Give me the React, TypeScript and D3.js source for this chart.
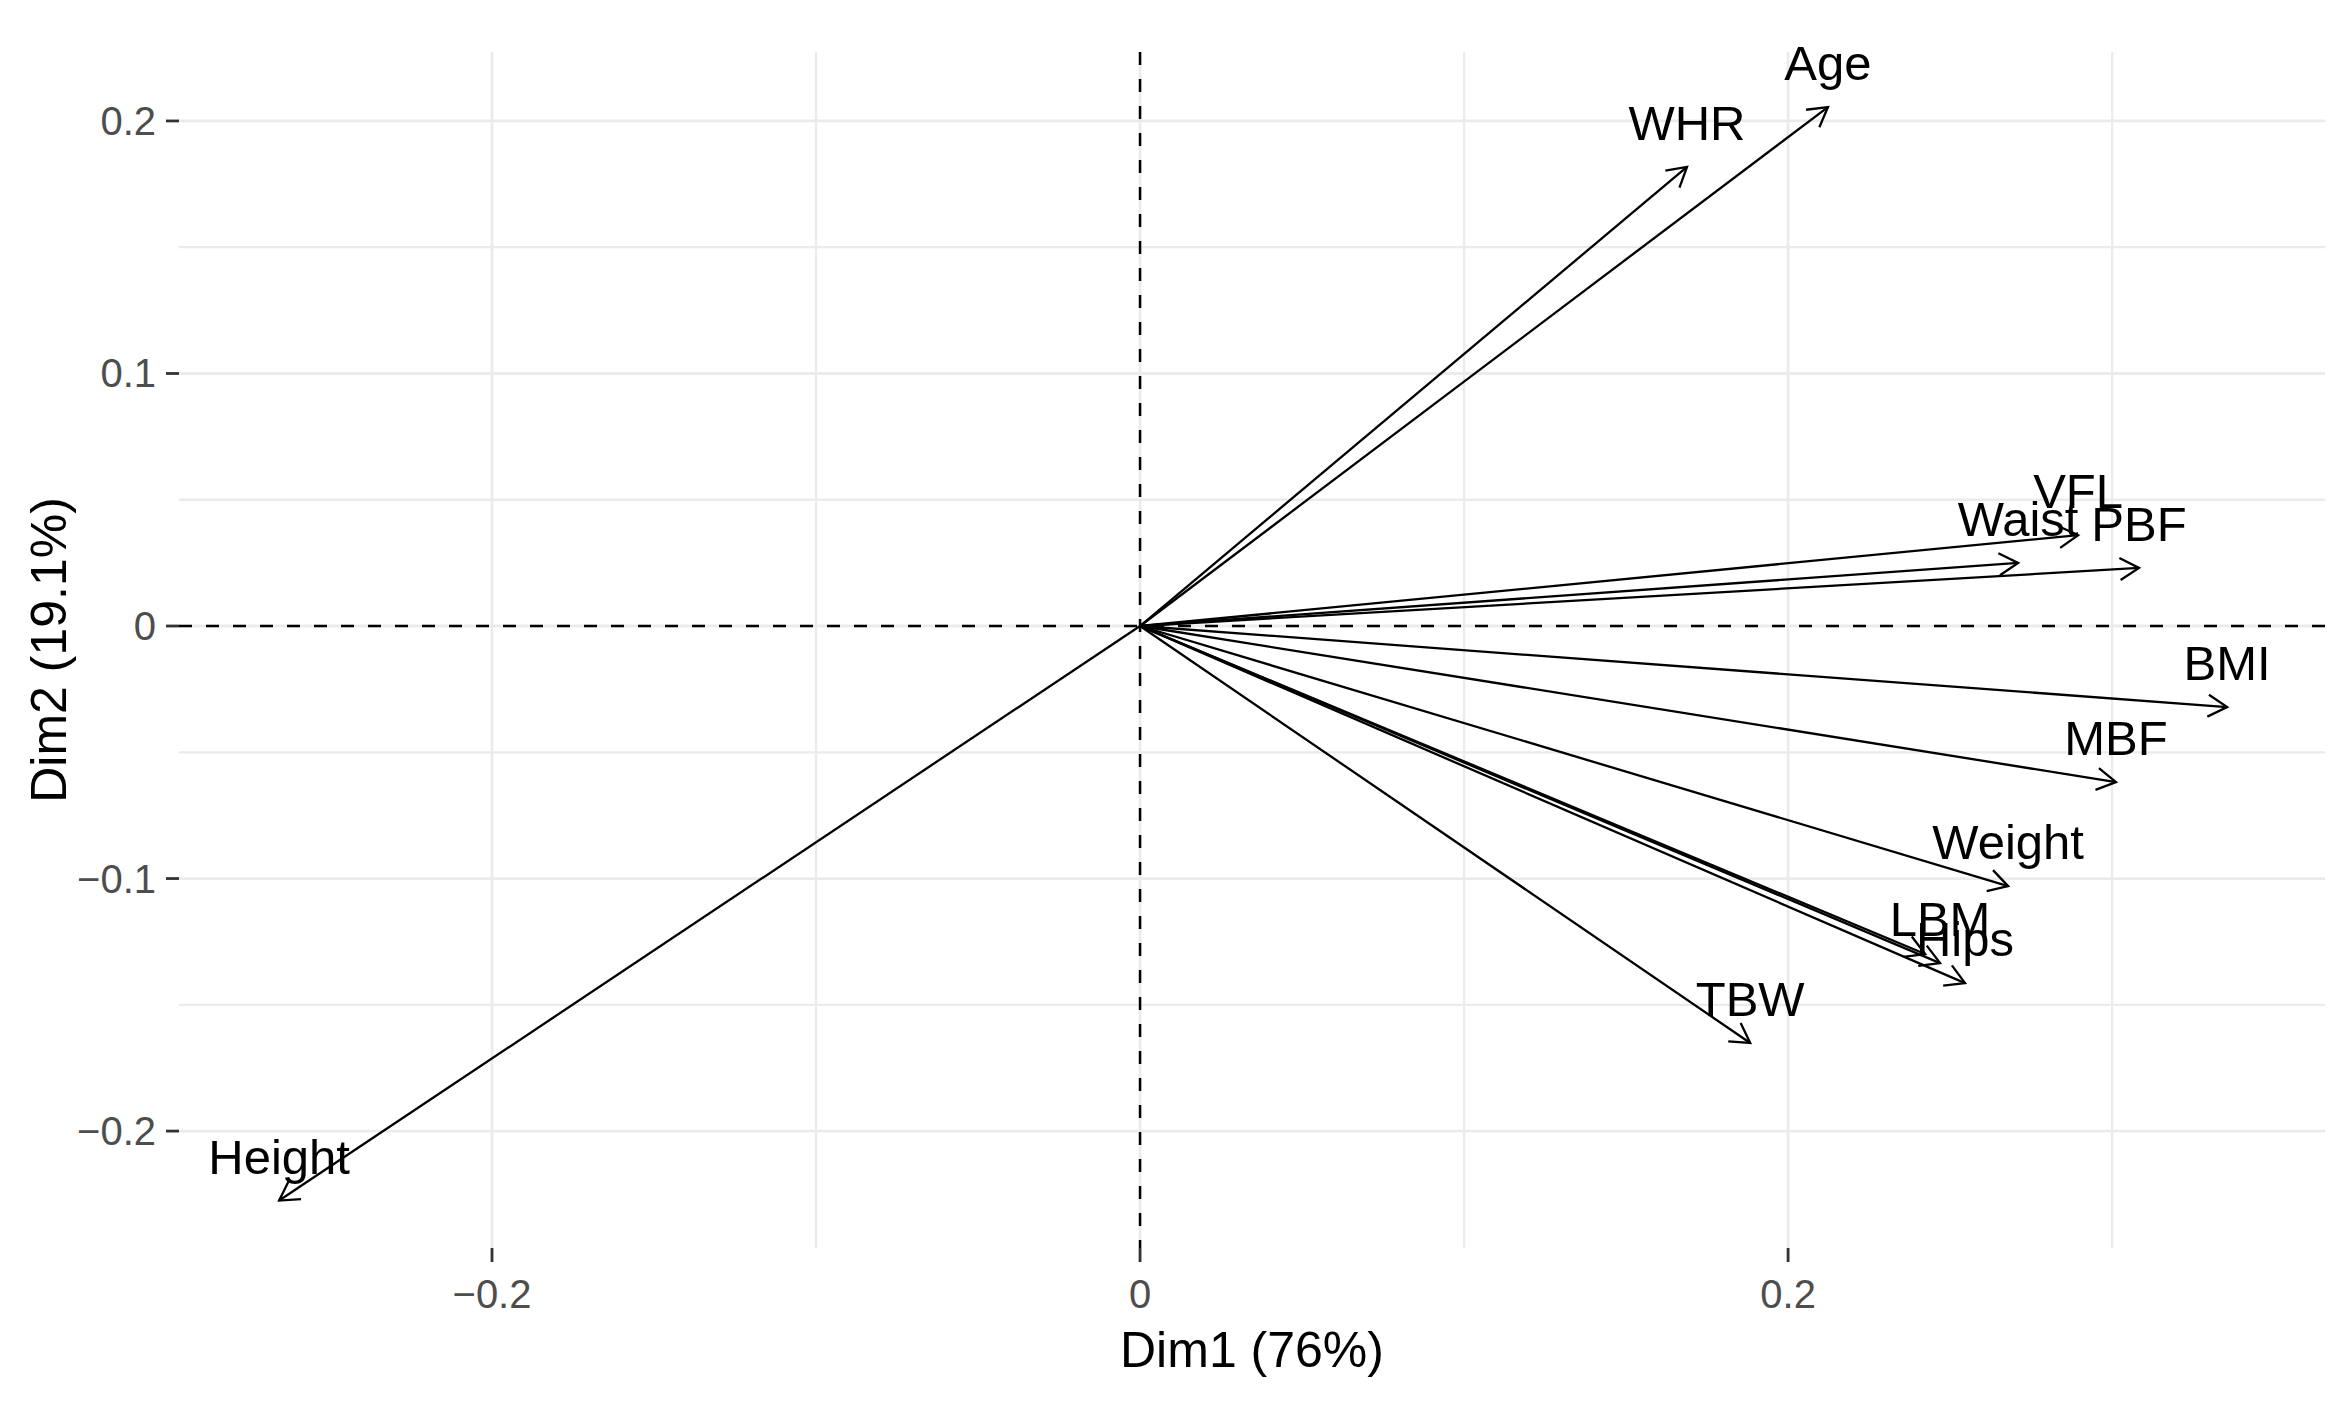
import React from "react";
import { scaleLinear } from "d3";

// PCA variable loadings
const variables = ["Age", "WHR", "VFL", "Waist", "PBF", "BMI", "MBF", "Weight", "LBM", "", "Hips", "TBW", "Height"];
const dim1 = [0.2123, 0.1688, 0.2895, 0.271, 0.3083, 0.3355, 0.3012, 0.2679, 0.2469, 0.2423, 0.2546, 0.1883, -0.2657];
const dim2 = [0.2055, 0.1818, 0.036, 0.025, 0.023, -0.0321, -0.0618, -0.103, -0.1335, -0.1299, -0.1414, -0.1651, -0.2275];

const xTicks = [-0.2, 0, 0.2];
const yTicks = [-0.2, -0.1, 0, 0.1, 0.2];
const xMinor = [-0.1, 0.1, 0.3];
const yMinor = [-0.15, -0.05, 0.05, 0.15];

const xTitle = "Dim1 (76%)";
const yTitle = "Dim2 (19.1%)";

const W = 2351;
const H = 1405;
const panel = { left: 179, right: 2325, top: 52, bottom: 1248 };

const FONT = "'Liberation Sans', Arial, sans-serif";

const fmt = (v: number) => (v === 0 ? "0" : (v < 0 ? "\u2212" : "") + Math.abs(v).toFixed(1));

const App: React.FC = () => {
    const x = scaleLinear().domain([-0.2966, 0.3657]).range([panel.left, panel.right]);
    const y = scaleLinear().domain([-0.2463, 0.2273]).range([panel.bottom, panel.top]);

    const arrowHead = (x1: number, y1: number, x2: number, y2: number) => {
        const a = Math.atan2(y2 - y1, x2 - x1);
        const len = 22;
        const spread = Math.PI / 6;
        const p1 = [x2 - len * Math.cos(a - spread), y2 - len * Math.sin(a - spread)];
        const p2 = [x2 - len * Math.cos(a + spread), y2 - len * Math.sin(a + spread)];
        return `M${p1[0]},${p1[1]}L${x2},${y2}L${p2[0]},${p2[1]}`;
    };

    return (
        <svg width={W} height={H} style={{ position: "absolute", left: 0, top: 0, background: "#fff" }}>
            {/* grid */}
            <g stroke="#EBEBEB" fill="none">
                {yMinor.map(v => (
                    <line key={"ym" + v} x1={panel.left} x2={panel.right} y1={y(v)} y2={y(v)} strokeWidth={2.3} />
                ))}
                {xMinor.map(v => (
                    <line key={"xm" + v} x1={x(v)} x2={x(v)} y1={panel.top} y2={panel.bottom} strokeWidth={2.3} />
                ))}
                {yTicks.map(v => (
                    <line key={"yg" + v} x1={panel.left} x2={panel.right} y1={y(v)} y2={y(v)} strokeWidth={2.8} />
                ))}
                {xTicks.map(v => (
                    <line key={"xg" + v} x1={x(v)} x2={x(v)} y1={panel.top} y2={panel.bottom} strokeWidth={2.8} />
                ))}
            </g>

            {/* reference lines */}
            <line x1={panel.left} x2={panel.right} y1={y(0)} y2={y(0)} stroke="#000" strokeWidth={2.5} strokeDasharray="13,14" />
            <line x1={x(0)} x2={x(0)} y1={panel.top} y2={panel.bottom} stroke="#000" strokeWidth={2.5} strokeDasharray="13,14" />

            {/* arrows */}
            <g stroke="#000" strokeWidth={2.3} fill="none">
                {variables.map((name, i) => {
                    const x2 = x(dim1[i]);
                    const y2 = y(dim2[i]);
                    return (
                        <g key={"a" + i}>
                            <line x1={x(0)} y1={y(0)} x2={x2} y2={y2} />
                            <path d={arrowHead(x(0), y(0), x2, y2)} />
                        </g>
                    );
                })}
            </g>

            {/* labels */}
            <g fontFamily={FONT} fontSize={49} fill="#000" textAnchor="middle">
                {variables.map((name, i) => (
                    <text key={"l" + i} x={x(dim1[i])} y={y(dim2[i]) - 27}>
                        {name}
                    </text>
                ))}
            </g>

            {/* axes ticks */}
            <g stroke="#333" strokeWidth={2.8}>
                {xTicks.map(v => (
                    <line key={"xt" + v} x1={x(v)} x2={x(v)} y1={panel.bottom} y2={panel.bottom + 14} />
                ))}
                {yTicks.map(v => (
                    <line key={"yt" + v} x1={panel.left - 13} x2={panel.left} y1={y(v)} y2={y(v)} />
                ))}
            </g>
            <g fontFamily={FONT} fontSize={40} fill="#4D4D4D">
                {xTicks.map(v => (
                    <text key={"xl" + v} x={x(v)} y={panel.bottom + 60} textAnchor="middle">
                        {fmt(v)}
                    </text>
                ))}
                {yTicks.map(v => (
                    <text key={"yl" + v} x={panel.left - 23} y={y(v) + 14} textAnchor="end">
                        {fmt(v)}
                    </text>
                ))}
            </g>

            {/* axis titles */}
            <text x={(panel.left + panel.right) / 2} y={1367} textAnchor="middle" fontFamily={FONT} fontSize={50} fill="#000">
                {xTitle}
            </text>
            <text
                transform={`translate(66,${(panel.top + panel.bottom) / 2}) rotate(-90)`}
                textAnchor="middle"
                fontFamily={FONT}
                fontSize={50}
                fill="#000"
            >
                {yTitle}
            </text>
        </svg>
    );
};

export default App;
